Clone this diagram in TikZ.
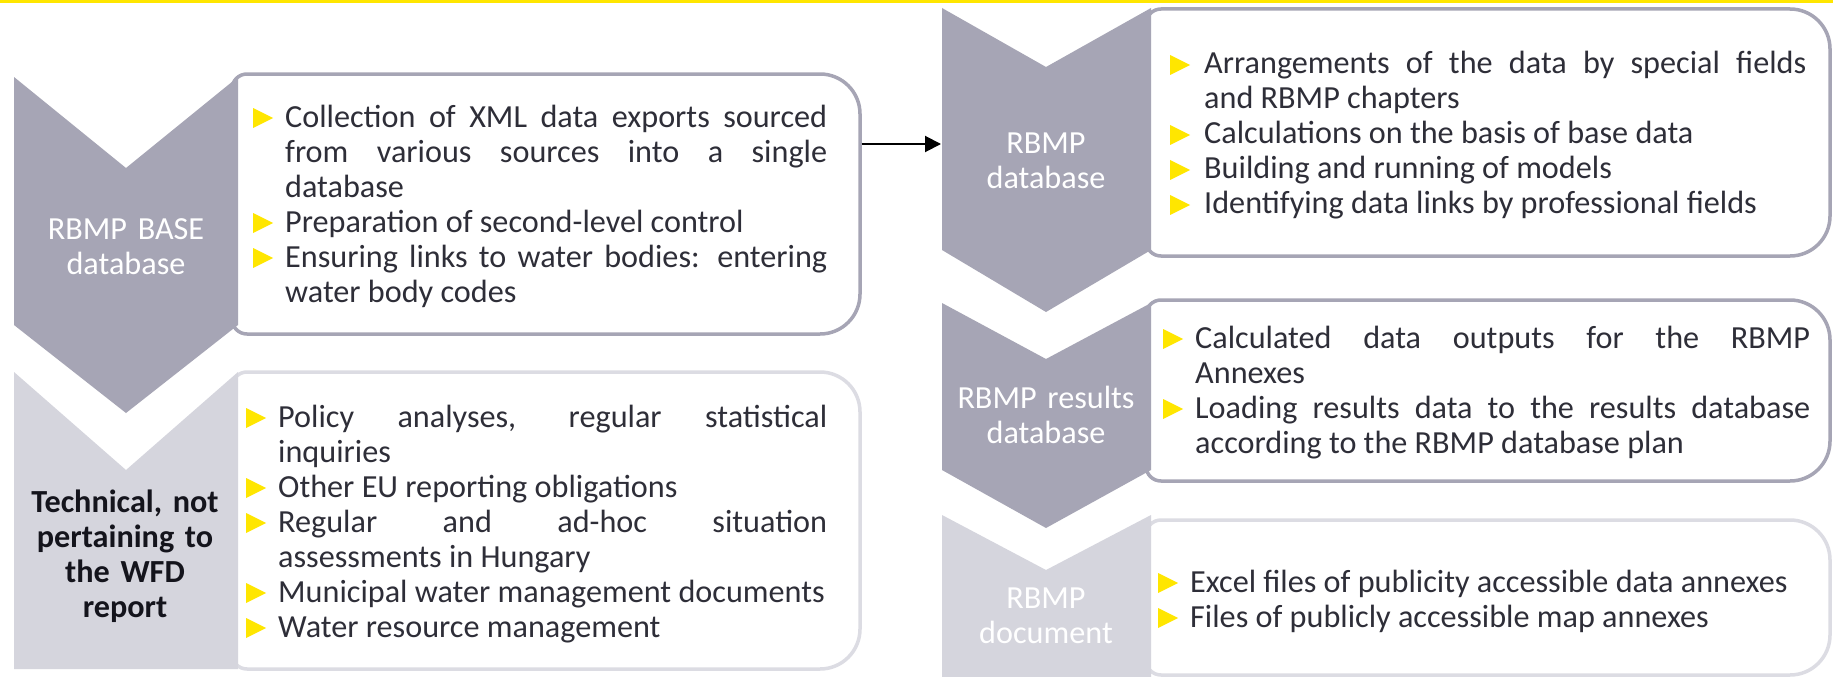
\documentclass[tikz,border=0pt]{standalone}
\usepackage{fontspec}
\setmainfont{Carlito}
\usetikzlibrary{arrows.meta}
\definecolor{eyyellow}{RGB}{255,230,0}
\definecolor{chevdark}{RGB}{166,165,181}
\definecolor{chevlight}{RGB}{213,213,221}
\definecolor{borderlight}{RGB}{220,220,227}
\definecolor{eytext}{RGB}{46,46,56}
\newcommand\ybul{\tikz[x=1pt,y=1pt,baseline=0pt]\fill[eyyellow](0,-1)--(0,19)--(20,9)--cycle;}
\newcommand\bul{\noindent\llap{\hbox to\leftskip{\ybul\hfil}}}
\newcommand\bsetup[1]{\leftskip=#1\relax\rightskip=0pt\relax\parfillskip=0pt plus 1fil\relax
  \spaceskip=0pt\relax\xspaceskip=0pt\relax
  \tolerance=10000 \hyphenpenalty=10000 \exhyphenpenalty=10000 }
% style, L, T, R, B
\newcommand\rbox[5]{%
  \draw[#1] (#2,#3+15) .. controls (#2,#3+6.7) and (#2+6.7,#3) .. (#2+15,#3)
    -- (#4-40,#3) .. controls (#4-17.9,#3) and (#4,#3+17.9) .. (#4,#3+40)
    -- (#4,#5-40) .. controls (#4,#5-17.9) and (#4-17.9,#5) .. (#4-40,#5)
    -- (#2+15,#5) .. controls (#2+6.7,#5) and (#2,#5-6.7) .. (#2,#5-15) -- cycle;}
\begin{document}
\begin{tikzpicture}[x=1pt,y=-1pt,
  boxdark/.style={draw=chevdark,line width=3.5pt,fill=white},
  boxlight/.style={draw=borderlight,line width=3.5pt,fill=white},
  chevd/.style={fill=chevdark},
  chevl/.style={fill=chevlight},
  btext/.style={anchor=base west,inner sep=0pt,align=justify,text=eytext,font=\fontsize{32.2}{35}\selectfont},
  clabel/.style={anchor=base,inner sep=0pt,text width=230pt,align=center,text=white,font=\fontsize{32.2}{35.2}\selectfont},
  conn/.style={line width=2pt,draw=black,-{Triangle[length=16pt,width=16pt]}}]
\useasboundingbox (0,0) rectangle (1833,677);
\fill[white] (0,0) rectangle (1833,677);
\fill[eyyellow] (0,0) rectangle (1833,3.5);

% ---- left column ----
\rbox{boxlight}{232}{372}{860}{669}
\fill[chevl] (14,372) -- (126,470) -- (238,372) -- (238,669) -- (14,669) -- cycle;
\rbox{boxdark}{232}{74}{860}{334}
\fill[chevd] (14,77) -- (126,168) -- (238,77) -- (238,325) -- (126,413) -- (14,325) -- cycle;

% ---- right column ----
\rbox{boxlight}{1146}{520}{1830}{675}
\fill[chevl] (942,515) -- (1046,570) -- (1151,515) -- (1151,677) -- (942,677) -- cycle;
\rbox{boxdark}{1146}{300}{1830}{481}
\fill[chevd] (942,303) -- (1046,359) -- (1151,303) -- (1151,470) -- (1046,528) -- (942,470) -- cycle;
\rbox{boxdark}{1146}{9}{1830}{256}
\fill[chevd] (942,8) -- (1046,67) -- (1151,8) -- (1151,250) -- (1046,312) -- (942,250) -- cycle;

% ---- chevron labels ----
\node[clabel] (lab1) at (126,239) {RBMP BASE\\database};
\node[clabel,text={rgb,255:red,20;green,20;blue,28},font=\bfseries\fontsize{32.2}{35.2}\selectfont] (lab2) at (125,512) {Technical, not\\pertaining to\\the WFD\\report};
\node[clabel] (lab3) at (1046,153) {RBMP\\database};
\node[clabel] (lab4) at (1046,408) {RBMP results\\database};
\node[clabel] (lab5) at (1046,608) {RBMP\\document};

% ---- box texts ----
\node[btext,text width=574pt] (t1) at (253,127) {\bsetup{32pt}%
\bul Collection of XML data exports sourced\linebreak from various sources into a single\linebreak database\par
\bul Preparation of second-level control\par
\bul Ensuring links to water bodies: entering\linebreak water body codes\par};

\node[btext,text width=581pt] (t2) at (246,427) {\bsetup{32pt}%
\bul Policy analyses, regular statistical\linebreak inquiries\par
\bul Other EU reporting obligations\par
\bul Regular and ad-hoc situation\linebreak assessments in Hungary\par
\bul Municipal water management documents\par
\bul Water resource management\par};

\node[btext,text width=636pt] (t3) at (1170,74) {\bsetup{34pt}%
\bul Arrangements of the data by special fields\linebreak and RBMP chapters\par
\bul Calculations on the basis of base data\par
\bul Building and running of models\par
\bul Identifying data links by professional fields\par};

\node[btext,text width=647pt] (t4) at (1163,348) {\bsetup{32pt}%
\bul Calculated data outputs for the RBMP\linebreak Annexes\par
\bul Loading results data to the results database\linebreak according to the RBMP database plan\par};

\node[btext,text width=660pt] (t5) at (1158,592) {\bsetup{32pt}%
\bul Excel files of publicity accessible data annexes\par
\bul Files of publicly accessible map annexes\par};

% ---- connector ----
\coordinate (l1east) at (861.5,144);
\coordinate (r1west) at (941,144);
\draw[conn] (l1east) -- (r1west);
\end{tikzpicture}
\end{document}
